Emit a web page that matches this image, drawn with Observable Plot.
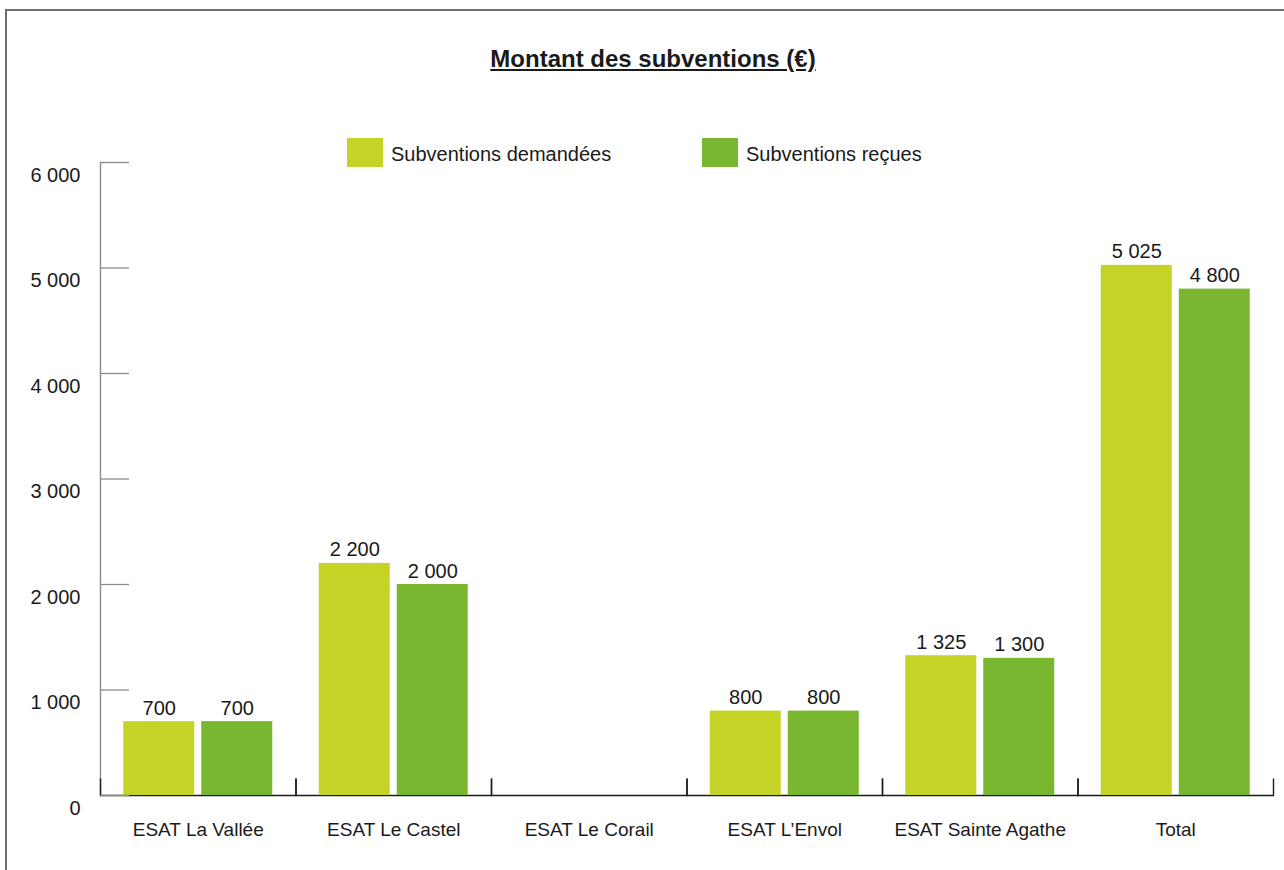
<!DOCTYPE html>
<html>
<head>
<meta charset="utf-8">
<script src="https://cdn.jsdelivr.net/npm/d3@7"></script>
<script src="https://cdn.jsdelivr.net/npm/@observablehq/plot@0.6"></script>
<style>
  html, body { margin: 0; padding: 0; background: #fff; }
  body { width: 1284px; height: 870px; overflow: hidden; position: relative;
         font-family: "Liberation Sans", Arial, sans-serif; color: #1a1a1a; }
  #frame { position: absolute; left: 5px; top: 9px; width: 1400px; height: 1000px;
           border-left: 2px solid #6e6e6e; border-top: 2px solid #6e6e6e; }
  #title { position: absolute; top: 47px; left: 653px; transform: translateX(-50%);
           font-size: 24px; line-height: 24px; font-weight: bold; text-decoration: underline;
           white-space: nowrap; }
  .lg { position: absolute; top: 138px; display: flex; align-items: center;
        font-size: 20px; line-height: 29px; white-space: nowrap; }
  .lg span { position: relative; top: 2px; }
  .sw { width: 36px; height: 29px; margin-right: 8px; }
  #chart { position: absolute; left: 0; top: 0; }
</style>
</head>
<body>
<div id="frame"></div>
<div id="chart"></div>
<div id="title">Montant des subventions (€)</div>
<div id="legend"></div>
<script>
// ---- data ----
const categories = ["ESAT La Vallée", "ESAT Le Castel", "ESAT Le Corail", "ESAT L’Envol", "ESAT Sainte Agathe", "Total"];
const seriesNames = ["Subventions demandées", "Subventions reçues"];
const demandees = [700, 2200, null, 800, 1325, 5025];
const recues = [700, 2000, null, 800, 1300, 4800];
const yTicks = [0, 1000, 2000, 3000, 4000, 5000, 6000];
const seriesColors = ["#c5d327", "#79b730"];

// ---- layout ----
const W = 1284, H = 870, mL = 100, mR = 11, mT = 162, mB = 75;
const facetW = (W - mL - mR) / categories.length;
const plotH = H - mT - mB;
const sepLen = 17;
const legendLeft = [347, 702];

const rows = [];
categories.forEach((c, i) => {
  [demandees, recues].forEach((vals, j) => {
    if (vals[i] != null) rows.push({category: c, series: seriesNames[j], value: vals[i]});
  });
});
const fmt = d3.formatLocale({thousands: "\u00a0", grouping: [3], decimal: ",", currency: ["", " €"]}).format(",");

// legend
const lg = document.getElementById("legend");
seriesNames.forEach((s, i) => {
  const item = document.createElement("div");
  item.className = "lg";
  item.style.left = legendLeft[i] + "px";
  const sw = document.createElement("div");
  sw.className = "sw";
  sw.style.background = seriesColors[i];
  const t = document.createElement("span");
  t.textContent = s;
  item.appendChild(sw); item.appendChild(t);
  lg.appendChild(item);
});

// separators + baseline: bottom part of each facet's frame
const sepStyle = {stroke: "#1a1a1a", strokeWidth: 1.4,
  strokeDasharray: `0 ${facetW + plotH - sepLen} ${2 * sepLen + facetW} ${plotH}`};

const chart = Plot.plot({
  width: W, height: H,
  marginLeft: mL, marginRight: mR, marginTop: mT, marginBottom: mB,
  style: {fontFamily: "Liberation Sans, Arial, sans-serif", fontSize: "20px", color: "#1a1a1a", background: "transparent", overflow: "visible"},
  fx: {domain: categories, paddingInner: 0, paddingOuter: 0, round: false, label: null},
  x: {domain: seriesNames, axis: null, paddingInner: 7 / 78, paddingOuter: 0.298, round: false},
  y: {domain: [0, 6000], label: null},
  color: {domain: seriesNames, range: seriesColors},
  marks: [
    Plot.frame({anchor: "left", facetAnchor: "left", stroke: "#8a8a8a", strokeWidth: 1.4}),
    Plot.frame({...sepStyle}),
    Plot.frame({...sepStyle, facetAnchor: "empty"}),
    Plot.barY(rows, {fx: "category", x: "series", y: "value", fill: "series"}),
    Plot.text(rows, {fx: "category", x: "series", y: "value", text: d => fmt(d.value),
      dy: -7, lineAnchor: "bottom", fontSize: 20, fill: "#1a1a1a"}),
    Plot.axisY({ticks: yTicks, tickSize: -29, tickFormat: () => "", facetAnchor: "left",
      stroke: "#8a8a8a", strokeWidth: 1.3, label: null}),
    Plot.axisY({ticks: yTicks, tickSize: 0, tickPadding: 20, dy: 13, tickFormat: fmt, facetAnchor: "left",
      fontSize: 20, fill: "#1a1a1a", label: null}),
    Plot.axisFx({anchor: "bottom", tickSize: 0, tickPadding: 27, fontSize: 19, fill: "#1a1a1a", label: null})
  ]
});
document.getElementById("chart").appendChild(chart);
</script>
</body>
</html>
